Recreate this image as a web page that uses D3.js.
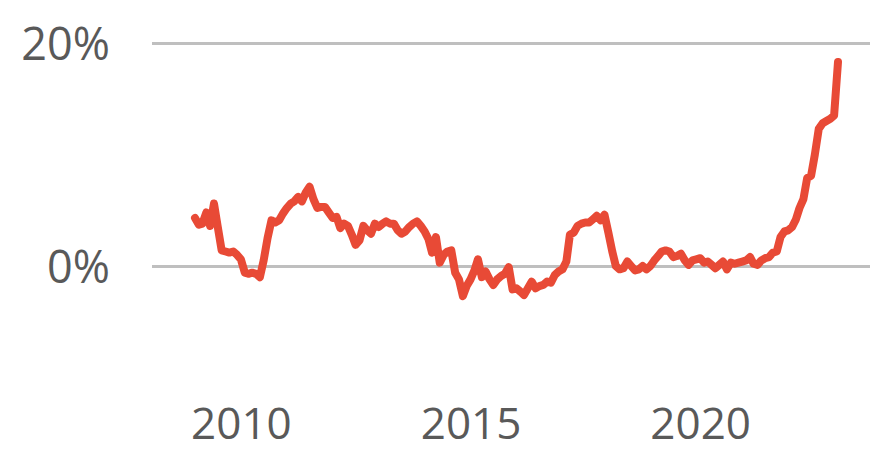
<!DOCTYPE html>
<html>
<head>
<meta charset="utf-8">
<script src="https://cdn.jsdelivr.net/npm/d3@7"></script>
<style>
	body { margin: 0; background: #fff; }
	svg { display: block; }
	.tick text { font-family: 'Open Sans', sans-serif; fill: #595959; }
</style>
</head>
<body>
<svg width="870" height="454"></svg>
<script>
// monthly rate, Jan 2009 .. Jan 2023 (percent)
var startYear = 2009;
var values = [
	4.3, 3.7, 3.8, 4.8, 3.6, 5.6, 3.5, 1.4, 1.3, 1.2, 1.3, 1.0,
	0.6, -0.6, -0.7, -0.6, -0.7, -1.0, 0.5, 2.5, 4.1, 3.9, 4.1, 4.7,
	5.2, 5.6, 5.8, 6.2, 5.8, 6.6, 7.1, 6.0, 5.2, 5.3, 5.3, 4.8,
	4.3, 4.4, 3.4, 3.8, 3.6, 2.8, 1.9, 2.3, 3.6, 3.2, 2.9, 3.8,
	3.5, 3.8, 4.0, 3.8, 3.8, 3.2, 2.9, 3.1, 3.5, 3.8, 4.0, 3.6,
	3.1, 2.4, 1.2, 2.6, 0.3, 1.0, 1.3, 1.4, -0.6, -1.2, -2.7, -1.8,
	-1.2, -0.4, 0.6, -1.0, -0.5, -1.2, -1.7, -1.2, -0.9, -0.7, -0.1, -2.1,
	-2.0, -2.3, -2.6, -2.0, -1.4, -2.0, -1.8, -1.7, -1.4, -1.5, -0.8, -0.5,
	-0.3, 0.4, 2.8, 3.0, 3.6, 3.8, 3.9, 3.9, 4.2, 4.5, 4.1, 4.6,
	3.0, 1.3, 0.0, -0.3, -0.2, 0.4, 0.0, -0.4, -0.3, 0.0, -0.3, 0.0,
	0.5, 0.9, 1.3, 1.4, 1.3, 0.8, 0.9, 1.1, 0.5, 0.1, 0.5, 0.6,
	0.7, 0.3, 0.4, 0.1, -0.2, 0.1, 0.4, -0.3, 0.3, 0.2, 0.3, 0.4,
	0.5, 0.8, 0.2, 0.1, 0.5, 0.7, 0.8, 1.2, 1.3, 2.6, 3.1, 3.2,
	3.5, 4.2, 5.2, 6.0, 7.9, 8.1, 10.0, 12.3, 12.8, 13.0, 13.2, 13.5,
	18.3
];
var yearTicks = [2010, 2015, 2020];
var pctTicks = [0, 20];

var data = values.map(function(v, i) {
	return { date: new Date(Date.UTC(startYear, i, 1)), value: v };
});

var svg = d3.select('svg'),
	width = +svg.attr('width'),
	height = +svg.attr('height');

// scales
var x = d3.scaleUtc()
	.domain([ new Date(Date.UTC(2009, 0, 1)), new Date(Date.UTC(2023, 0, 1)) ])
	.range([ 195, 838 ]);

var y = d3.scaleLinear().domain([ 0, 20 ]).range([ 266, 43 ]);

// gridlines + % labels
var yAxis = svg.append('g')
	.attr('transform', 'translate(152,0)')
	.call(d3.axisLeft(y)
		.tickValues(pctTicks)
		.tickSize(-(width - 152))
		.tickPadding(42)
		.tickFormat(function(d) { return d + '%'; }));
yAxis.select('.domain').remove();
yAxis.selectAll('.tick line').attr('stroke', '#bfbfbf').attr('stroke-width', 3);
yAxis.selectAll('.tick text').attr('font-size', 45).attr('dy', '0.36em');

// year labels
var xAxis = svg.append('g')
	.attr('transform', 'translate(0,392)')
	.call(d3.axisBottom(x)
		.tickValues(yearTicks.map(function(yr) { return new Date(Date.UTC(yr, 0, 1)); }))
		.tickSize(0)
		.tickPadding(16)
		.tickFormat(d3.utcFormat('%Y')));
xAxis.select('.domain').remove();
xAxis.selectAll('.tick text').attr('font-size', 44);

// the line
var line = d3.line()
	.x(function(d) { return x(d.date); })
	.y(function(d) { return y(d.value); });

svg.append('path')
	.datum(data)
	.attr('d', line)
	.attr('fill', 'none')
	.attr('stroke', '#e84a36')
	.attr('stroke-width', 8)
	.attr('stroke-linejoin', 'round')
	.attr('stroke-linecap', 'round');
</script>
</body>
</html>
